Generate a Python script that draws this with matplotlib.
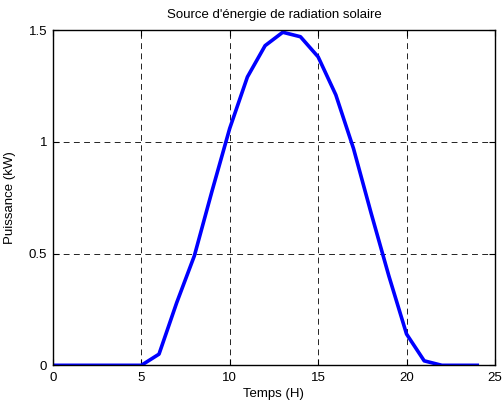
import numpy as np
from matplotlib import pyplot as plt

plt.rcParams['font.family'] = ['Liberation Sans', 'DejaVu Sans']

# Heures et puissance
heures = np.arange(0, 25)
puissance = [0, 0, 0, 0, 0, 0, 0.05, 0.28, 0.49, 0.78, 1.06, 1.29, 1.43,
             1.49, 1.47, 1.38, 1.21, 0.97, 0.68, 0.40, 0.14, 0.02, 0, 0, 0]

fig = plt.figure(figsize=(5.04, 4.03), dpi=100)
ax = fig.add_axes([0.105, 0.0935, 0.877, 0.832])

ax.plot(heures, puissance, color='#0000ff', linewidth=2.6)

ax.set_xlim(0, 25)
ax.set_ylim(0, 1.5)
ax.set_xticks([0, 5, 10, 15, 20, 25])
ax.set_yticks([0, 0.5, 1, 1.5])
ax.set_yticklabels(['0', '0.5', '1', '1.5'])
ax.grid(True, color='#222222', linestyle=(0, (6, 4.5)), linewidth=0.7)
ax.tick_params(direction='in', length=4, top=True, right=True, labelsize=9.5)
ax.tick_params(axis='x', pad=5)
ax.tick_params(axis='y', pad=4)
for s in ax.spines.values():
    s.set_linewidth(1.0)

ax.set_title("Source d'énergie de radiation solaire", fontsize=9.5, pad=9)
ax.set_xlabel('Temps (H)', fontsize=9.5, labelpad=3)
ax.set_ylabel('Puissance (kW)', fontsize=9.5, labelpad=9)

plt.savefig('out.png', dpi=100)
